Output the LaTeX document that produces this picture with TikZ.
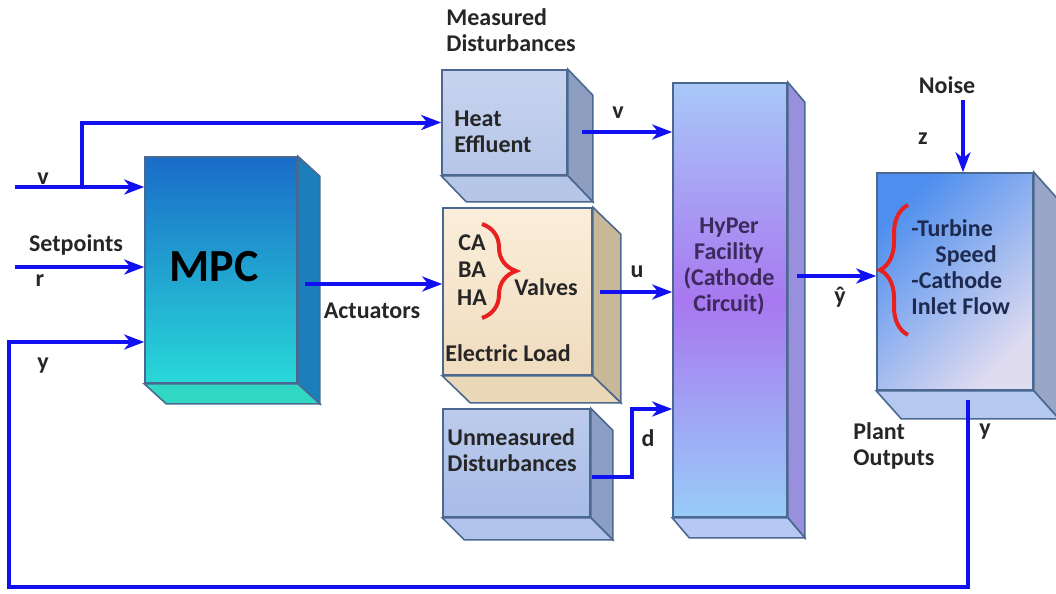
\documentclass[tikz,border=0pt]{standalone}
\usepackage{fontspec}
\setmainfont{Carlito}
\usetikzlibrary{arrows.meta,positioning,calc,decorations.pathreplacing}

\definecolor{edge}{HTML}{4A6890}
\definecolor{flow}{HTML}{1010F0}
\definecolor{brace}{HTML}{E82020}
\definecolor{txt}{HTML}{262626}
\definecolor{hyptxt}{HTML}{3C2A5C}
\definecolor{pltxt}{HTML}{1E2A50}
\definecolor{mpcTop}{HTML}{1A6CC8}
\definecolor{mpcBot}{HTML}{28D8D8}
\definecolor{mpcSide}{HTML}{1C7EBA}
\definecolor{mpcBase}{HTML}{30D8C4}
\definecolor{heatTop}{HTML}{C8D3EE}
\definecolor{heatBot}{HTML}{B6C6E8}
\definecolor{heatSide}{HTML}{8E9EC0}
\definecolor{heatBase}{HTML}{B6C6E6}
\definecolor{valTop}{HTML}{FAEEDA}
\definecolor{valBot}{HTML}{F0DCBE}
\definecolor{valSide}{HTML}{C8B898}
\definecolor{valBase}{HTML}{EAD8B8}
\definecolor{hypTop}{HTML}{A8C8F8}
\definecolor{hypMid}{HTML}{A878F0}
\definecolor{hypBot}{HTML}{98CCF8}
\definecolor{hypSide}{HTML}{9890DC}
\definecolor{hypBase}{HTML}{B8C8F4}
\definecolor{plLeft}{HTML}{4E8EEE}
\definecolor{plRight}{HTML}{E0DCF0}
\definecolor{plSide}{HTML}{9AA6C8}
\definecolor{plBase}{HTML}{B4C8F0}
\definecolor{unTop}{HTML}{BCCBEC}
\definecolor{unBot}{HTML}{A8BCE8}
\definecolor{unSide}{HTML}{8C9EC6}
\definecolor{unBase}{HTML}{B2C4EC}

\begin{document}
\begin{tikzpicture}[
      x=0.5pt,y=-0.5pt,
      box/.style={draw=edge,line width=0.8pt,inner sep=0pt},
      arr/.style={-{Stealth[length=10pt,width=7.5pt,inset=3pt]},line width=2pt,flow},
      lbl/.style={font=\bfseries\fontsize{12}{13}\selectfont,text=txt,inner sep=1pt},
      brc/.style={draw=brace,line width=2pt,decorate,decoration={brace,amplitude=#1}},
    ]
    \useasboundingbox (0,0) rectangle (1056,594);

    % ── Blocks (front faces) ───────────────────────────────────────────────
    \node[box,minimum width=76pt,minimum height=113pt,
          top color=mpcTop,bottom color=mpcBot] (mpc) at (221,270) {};
    \node[box,minimum width=62.5pt,minimum height=52.5pt,
          top color=heatTop,bottom color=heatBot] (heat) at (504.5,122.5) {};
    \node[box,minimum width=74.5pt,minimum height=83.5pt,
          top color=valTop,bottom color=valBot] (valves) at (517.5,291.5) {};
    \node[box,minimum width=57pt,minimum height=217pt,
          top color=hypTop,bottom color=hypBot,middle color=hypMid] (hyper) at (730,300) {};
    \node[box,minimum width=78pt,minimum height=108.5pt,
          top color=plLeft,bottom color=plRight,shading angle=45] (plant) at (955,281.5) {};
    \node[box,minimum width=73.5pt,minimum height=54pt,
          top color=unTop,bottom color=unBot] (unmeas) at (516.5,463) {};

    % ── Depth faces ────────────────────────────────────────────────────────
    \foreach \b/\dx/\dy/\sc/\bc in {mpc/22/20/mpcSide/mpcBase,
        heat/25/26/heatSide/heatBase, valves/28/27/valSide/valBase,
        hyper/17/20/hypSide/hypBase, plant/25/28/plSide/plBase,
        unmeas/22/22/unSide/unBase}{
      \draw[edge,line width=0.8pt,fill=\sc] (\b.north east) -- ++(\dx,\dy)
            -- ($(\b.south east)+(\dx,\dy)$) -- (\b.south east) -- cycle;
      \draw[edge,line width=0.8pt,fill=\bc] (\b.south west) -- ++(\dx,\dy)
            -- ($(\b.south east)+(\dx,\dy)$) -- (\b.south east) -- cycle;
    }

    % ── Texts inside the blocks ────────────────────────────────────────────
    \node[font=\bfseries\fontsize{23}{26}\selectfont,text=black] (mpctxt) at (214,267) {MPC};
    \node[lbl,align=left,anchor=west] (heattxt) at (452,132) {Heat\\Effluent};
    \node[lbl] (ca) at (472,243) {CA};
    \node[lbl] (ba) at (472,270) {BA};
    \node[lbl] (ha) at (472,298) {HA};
    \draw[brc=17pt] (482,224) -- (482,318);
    \node[lbl] (valtxt) at (546,287) {Valves};
    \node[lbl] (eltxt) at (508,353) {Electric Load};
    \node[lbl,text=hyptxt,align=center] (hyptxt) at (729,267) {HyPer\\Facility\\(Cathode\\Circuit)};
    \node[lbl,text=pltxt,align=left,anchor=west] (pltxt) at (909,267)
          {-Turbine\\\hspace{12pt}Speed\\-Cathode\\Inlet Flow};
    \draw[brc=14pt] (908,335) -- (908,205);
    \node[lbl,align=left,anchor=west] (untxt) at (445,450) {Unmeasured\\Disturbances};

    % ── Free ends and bends of the signal lines ────────────────────────────
    \coordinate (vin)     at (15,187);
    \coordinate (vbr)     at (82,187);
    \coordinate (spin)    at (15,267);
    \coordinate (actout)  at (305,284);
    \coordinate (heatout) at (582,132);
    \coordinate (valout)  at (600,292);
    \coordinate (unout)   at (592,477);
    \coordinate (dknee)   at (632,409);
    \coordinate (hypout)  at (797,276);
    \coordinate (noisein) at (963,100);
    \coordinate (yout)    at (968,400);
    \coordinate (fbcorner) at (9,587);

    % ── Signal lines ───────────────────────────────────────────────────────
    \draw[arr] (vin) -- (vin -| mpc.west);
    \draw[arr] (vbr) |- (heat.west);
    \draw[arr] (spin) -- (spin -| mpc.west);
    \draw[arr] (yout) |- (fbcorner) |- ($(mpc.west)+(0,72)$);
    \draw[arr] (actout) -- (actout -| valves.west);
    \draw[arr] (heatout) -- (heatout -| hyper.west);
    \draw[arr] (valout) -- (valout -| hyper.west);
    \draw[arr] (unout) -| (dknee) -- (dknee -| hyper.west);
    \draw[arr] (hypout) -- (hypout -| plant.west);
    \draw[arr] (noisein) -- (noisein |- plant.north);

    % ── Labels ─────────────────────────────────────────────────────────────
    \node[lbl] (vlbl) at (43,179) {v};
    \node[lbl] (splbl) at (76,245) {Setpoints};
    \node[lbl] (rlbl) at (40,281) {r};
    \node[lbl] (ylbl) at (43,366) {y};
    \node[lbl] (actlbl) at (372,311) {Actuators};
    \node[lbl,align=left,anchor=west] (mdlbl) at (444,30) {Measured\\Disturbances};
    \node[lbl] (v2lbl) at (618,113) {v};
    \node[lbl] (ulbl) at (637,272) {u};
    \node[lbl] (dlbl) at (648,438) {d};
    \node[lbl] (yhlbl) at (840,297) {ŷ};
    \node[lbl] (noiselbl) at (947,85) {Noise};
    \node[lbl] (zlbl) at (923,139) {z};
    \node[lbl] (y2lbl) at (985,432) {y};
    \node[lbl,align=left,anchor=west] (polbl) at (851,446) {Plant\\Outputs};

  \end{tikzpicture}
\end{document}
